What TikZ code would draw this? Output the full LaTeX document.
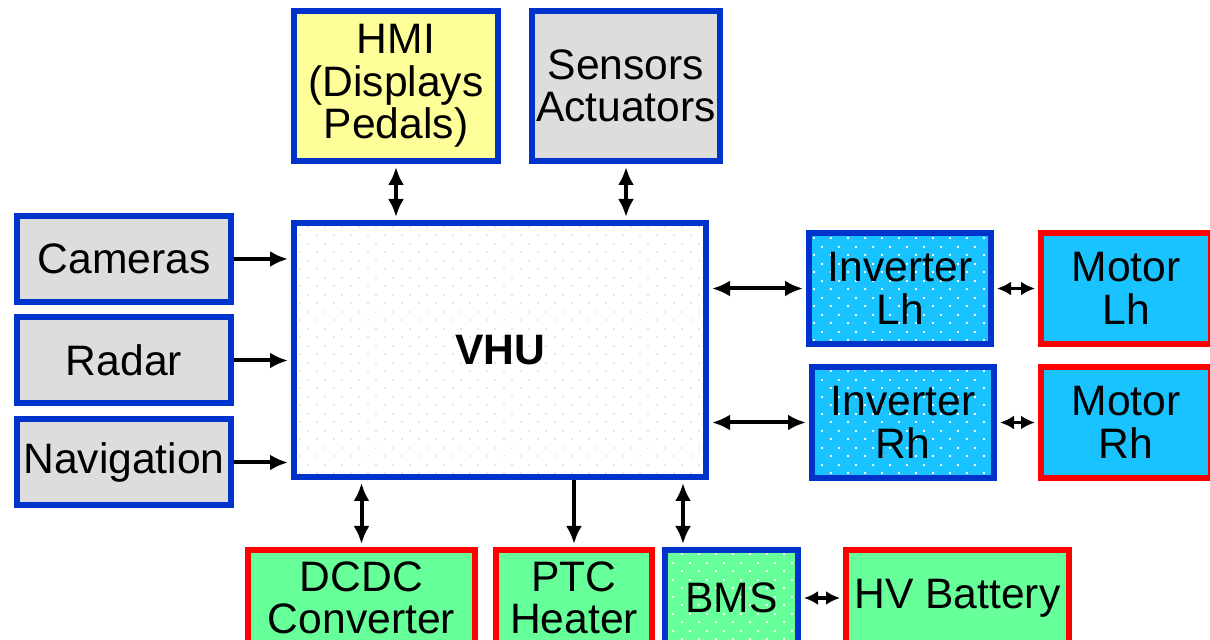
\documentclass[tikz,border=0pt]{standalone}
\usepackage{fontspec}
\setmainfont{Liberation Sans}
\usetikzlibrary{arrows.meta,patterns.meta}
\definecolor{BoxBlue}{HTML}{0033CC}
\definecolor{BoxRed}{HTML}{FF0000}
\definecolor{PaleYellow}{HTML}{FFFF99}
\definecolor{LightGrey}{HTML}{DDDDDD}
\definecolor{SkyCyan}{HTML}{19C3FF}
\definecolor{MintGreen}{HTML}{66FF99}
\definecolor{SandDot}{HTML}{F3E6CC}

\tikzdeclarepattern{
  name=sparseDots,
  type=uncolored,
  bounding box={(0,0) and (8.3pt,8.3pt)},
  tile size={(8.3pt,8.3pt)},
  code={
    \fill (0,0) rectangle (0.9pt,0.9pt);
    \fill (4.15pt,4.15pt) rectangle (5.05pt,5.05pt);
  }
}

\begin{document}
\begin{tikzpicture}[x=0.5pt,y=-0.5pt]
  \path[use as bounding box] (0,0) rectangle (1210,640);
  \clip (0,0) rectangle (1210,640);
  \tikzset{
    vhuBlock/.style={
      line width=3pt, inner sep=0pt, align=center, text=black,
      font=\fontsize{21.3pt}{21.3pt}\selectfont
    },
    vhuBlue/.style={vhuBlock,draw=BoxBlue},
    vhuRed/.style={vhuBlock,draw=BoxRed},
    vhuDotted/.style={
      preaction={fill=#1},
      preaction={pattern=sparseDots,pattern color=white}
    },
    vhuLink/.style={
      {Latex[length=9pt,width=8pt]}-{Latex[length=9pt,width=8pt]},
      line width=2pt, shorten <=1.5pt, shorten >=1.5pt
    },
    vhuFeed/.style={
      -{Latex[length=9pt,width=8pt]},
      line width=2pt, shorten >=1.5pt
    },
    vhuLinkSmall/.style={
      {Latex[length=7pt,width=7pt]}-{Latex[length=7pt,width=7pt]},
      line width=1.8pt, shorten <=1.5pt, shorten >=1.5pt
    }
  }

  \node[vhuBlue,
    preaction={fill=white},
    preaction={pattern=sparseDots,pattern color=SandDot},
    minimum width=206pt,minimum height=127pt,
    font=\fontsize{21.3pt}{21.3pt}\selectfont\bfseries] (vhu) at (500,350) {VHU};

  \node[vhuBlue,fill=PaleYellow,minimum width=102pt,minimum height=75pt] (hmi) at (396,86)
    {HMI\\(Displays\\Pedals)};
  \node[vhuBlue,fill=LightGrey,minimum width=94pt,minimum height=75pt] (sensors) at (626,86)
    {Sensors\\Actuators};

  \node[vhuBlue,fill=LightGrey,minimum width=107pt,minimum height=43pt] (cameras) at (124,259) {Cameras};
  \node[vhuBlue,fill=LightGrey,minimum width=107pt,minimum height=43pt] (radar) at (124,360.5) {Radar};
  \node[vhuBlue,fill=LightGrey,minimum width=107pt,minimum height=43pt] (navigation) at (124,462.5) {Navigation};

  \node[vhuBlue,vhuDotted=SkyCyan,minimum width=91pt,minimum height=55.5pt] (invLh) at (900,288.5) {Inverter\\Lh};
  \node[vhuBlue,vhuDotted=SkyCyan,minimum width=91pt,minimum height=55.5pt] (invRh) at (903,422.5) {Inverter\\Rh};
  \node[vhuRed,fill=SkyCyan,minimum width=85pt,minimum height=55.5pt] (motorLh) at (1126,288.5) {Motor\\Lh};
  \node[vhuRed,fill=SkyCyan,minimum width=85pt,minimum height=55.5pt] (motorRh) at (1126,422.5) {Motor\\Rh};

  \node[vhuRed,fill=MintGreen,minimum width=113.5pt,minimum height=48pt] (dcdc) at (361.5,598) {DCDC\\Converter};
  \node[vhuRed,fill=MintGreen,minimum width=78pt,minimum height=48pt] (ptc) at (574,598) {PTC\\Heater};
  \node[vhuBlue,vhuDotted=MintGreen,minimum width=66.5pt,minimum height=48pt] (bms) at (731.5,598) {BMS};
  \node[vhuRed,fill=MintGreen,minimum width=111.5pt,minimum height=48pt] (battery) at (957.5,598) {HV Battery};

  % top and left side
  \draw[vhuLink] (hmi.south) -- (hmi.south |- vhu.north);
  \draw[vhuLink] (sensors.south) -- (sensors.south |- vhu.north);
  \draw[vhuFeed] (cameras.east) -- (cameras.east -| vhu.west);
  \draw[vhuFeed] (radar.east) -- (radar.east -| vhu.west);
  \draw[vhuFeed] (navigation.east) -- (navigation.east -| vhu.west);

  % drive train
  \draw[vhuLink] (invLh.west -| vhu.east) -- (invLh.west);
  \draw[vhuLinkSmall] (invLh.east) -- (motorLh.west);
  \draw[vhuLink] (invRh.west -| vhu.east) -- (invRh.west);
  \draw[vhuLinkSmall] (invRh.east) -- (motorRh.west);

  % HV side
  \coordinate (bmsTop) at ([xshift=10.5pt]bms.north west);
  \draw[vhuLink] (dcdc.north |- vhu.south) -- (dcdc.north);
  \draw[vhuFeed] (ptc.north |- vhu.south) -- (ptc.north);
  \draw[vhuLink] (bmsTop |- vhu.south) -- (bmsTop);
  \draw[vhuLinkSmall] (bms.east) -- (battery.west);
\end{tikzpicture}
\end{document}
